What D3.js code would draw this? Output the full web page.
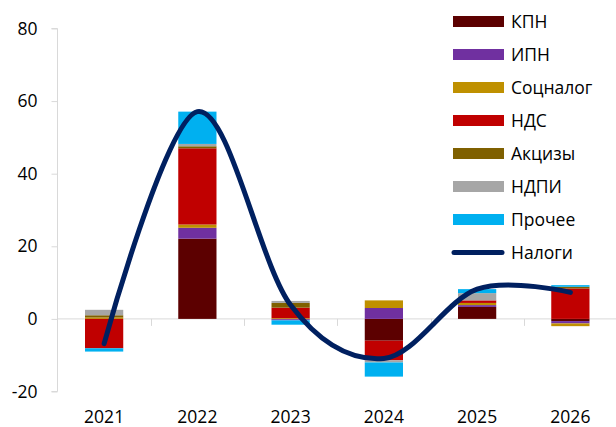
<!DOCTYPE html>
<html>
<head>
<meta charset="utf-8">
<script src="https://cdn.jsdelivr.net/npm/d3@7"></script>
<style>
  html, body { margin: 0; padding: 0; background: #fff; }
  svg { display: block; }
  text { font-family: "Open Sans", "Noto Sans", sans-serif; fill: #000; }
</style>
</head>
<body>
<svg id="chart" width="616" height="427"></svg>
<script>
// Tax revenue change by component, bn
const years = ["2021", "2022", "2023", "2024", "2025", "2026"];
const seriesNames = ["КПН", "ИПН", "Соцналог", "НДС", "Акцизы", "НДПИ", "Прочее"];
const seriesColors = ["#5c0000", "#7030a0", "#bf9000", "#c00000", "#7f6000", "#a6a6a6", "#00b0f0"];

const kpn      = [0.0, 22.1, -0.1, -6.0, 3.3, -0.6];
const ipn      = [0.0, 3.0, -0.3, 3.0, 0.5, -0.65];
const socnalog = [0.4, 0.9, 0.2, 2.1, 0.6, -0.75];
const nds      = [-8.1, 21.0, 2.9, -5.4, 0.7, 8.4];
const akcizy   = [0.6, 0.55, 1.3, 0.0, 0.0, 0.45];
const ndpi     = [1.5, 0.65, 0.55, -0.6, 2.0, 0.0];
const prochee  = [-0.9, 8.9, -1.2, -3.9, 1.1, 0.45];

const nalogi   = [-6.8, 57.1, 3.8, -10.9, 8.2, 7.3];
const lineName = "Налоги";
const lineColor = "#002060";

const yTicks = [-20, 0, 20, 40, 60, 80];

const seriesValues = [kpn, ipn, socnalog, nds, akcizy, ndpi, prochee];
const rows = years.map((y, i) => {
  const r = { year: y };
  seriesNames.forEach((n, k) => { r[n] = seriesValues[k][i]; });
  return r;
});

const svg = d3.select("#chart");
const axisColor = "#d9d9d9";
const fontSize = "17.5px";

const x = d3.scaleBand().domain(years).range([57.5, 617]).padding(0);
const y = d3.scaleLinear().domain([-20, 80]).range([391.5, 28.5]);
const barW = x.bandwidth() * 0.41;

const stacked = d3.stack()
  .keys(seriesNames)
  .offset(d3.stackOffsetDiverging)(rows);

// bars
const g = svg.append("g");
stacked.forEach((layer, k) => {
  g.selectAll(null)
    .data(layer)
    .join("rect")
    .attr("x", d => x(d.data.year) + (x.bandwidth() - barW) / 2)
    .attr("width", barW)
    .attr("y", d => y(Math.max(d[0], d[1])))
    .attr("height", d => Math.abs(y(d[0]) - y(d[1])))
    .attr("fill", seriesColors[k]);
});

// y axis
const yAxis = d3.axisLeft(y).tickValues(yTicks).tickSize(6).tickPadding(14)
  .tickFormat(d => String(d));
const gy = svg.insert("g", ":first-child").attr("transform", "translate(57.5,0)").call(yAxis);
gy.select(".domain").attr("stroke", axisColor).attr("d", `M-6,${y(80)}H0V${y(-20)}H-6`);
gy.selectAll(".tick line").attr("stroke", axisColor);
gy.selectAll(".tick text").style("font-size", fontSize).attr("fill", "#000");

// x axis along zero with boundary ticks
const gx = svg.insert("g", ":first-child");
gx.append("line")
  .attr("x1", 57.5).attr("x2", 616)
  .attr("y1", y(0)).attr("y2", y(0))
  .attr("stroke", axisColor);
gx.selectAll(null)
  .data(years.slice(1))
  .join("line")
  .attr("x1", d => Math.round(x(d)) + 0.5).attr("x2", d => Math.round(x(d)) + 0.5)
  .attr("y1", y(0)).attr("y2", y(0) + 7)
  .attr("stroke", axisColor);
svg.append("g").selectAll("text")
  .data(years)
  .join("text")
  .attr("x", d => x(d) + x.bandwidth() / 2)
  .attr("y", 423)
  .attr("text-anchor", "middle")
  .style("font-size", fontSize)
  .text(d => d);

// total line
const line = d3.line()
  .x((d, i) => x(years[i]) + x.bandwidth() / 2)
  .y(d => y(d))
  .curve(d3.curveCardinal.tension(0));
svg.append("path")
  .datum(nalogi)
  .attr("d", line)
  .attr("fill", "none")
  .attr("stroke", lineColor)
  .attr("stroke-width", 5)
  .attr("stroke-linecap", "round")
  .attr("stroke-linejoin", "round");

// legend
const lg = svg.append("g");
const legendY = i => 21.5 + i * 33;
seriesNames.forEach((n, i) => {
  lg.append("rect")
    .attr("x", 453).attr("y", legendY(i) - 5.5)
    .attr("width", 51).attr("height", 11)
    .attr("fill", seriesColors[i]);
  lg.append("text")
    .attr("x", 511).attr("y", legendY(i))
    .attr("dy", "0.36em")
    .style("font-size", fontSize)
    .text(n);
});
const li = seriesNames.length;
lg.append("line")
  .attr("x1", 454).attr("x2", 502)
  .attr("y1", legendY(li)).attr("y2", legendY(li))
  .attr("stroke", lineColor).attr("stroke-width", 5)
  .attr("stroke-linecap", "round");
lg.append("text")
  .attr("x", 511).attr("y", legendY(li))
  .attr("dy", "0.36em")
  .style("font-size", fontSize)
  .text(lineName);
</script>
</body>
</html>
